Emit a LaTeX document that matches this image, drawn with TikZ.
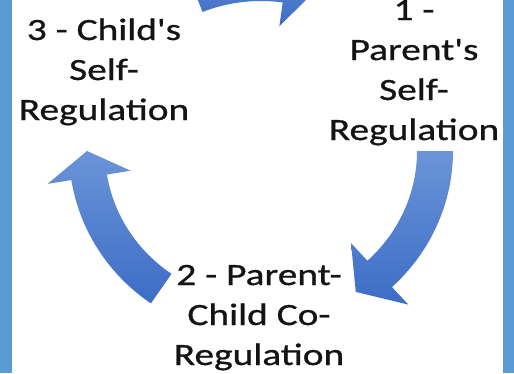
\documentclass[tikz,border=0pt]{standalone}
\usepackage{fontspec}
\setmainfont{Carlito}[FakeStretch=1.27, FakeBold=0.8, Ligatures=TeXOff]
\usetikzlibrary{calc}
\definecolor{frameblue}{HTML}{5B9BD5}
\definecolor{arrowtop}{HTML}{6B94D8}
\definecolor{arrowbottom}{HTML}{3C6DC6}
\definecolor{labeltext}{HTML}{141414}
% curved arrow on the cycle: (centre)(start:head base:tip)
\def\cyclearrow(#1)(#2:#3:#4){\shade[top color=arrowtop, bottom color=arrowbottom]
	($(#1)+(#2:192 and 186)$) arc[start angle=#2, end angle=#3, x radius=192, y radius=186]
	-- ($(#1)+(#3:216 and 210)$) -- ($(#1)+(#4:174 and 168)$) -- ($(#1)+(#3:132 and 126)$)
	-- ($(#1)+(#3:156 and 150)$) arc[start angle=#3, end angle=#2, x radius=156, y radius=150] -- cycle;}

\begin{document}
\begin{tikzpicture}[x=1pt, y=1pt,
	steplabel/.style={align=center, anchor=base, inner sep=0pt, text=labeltext,
		font={\fontsize{31}{40}\selectfont}}]
			%%%%% START %%%%%
			
			\clip (0, 0) rectangle (514, 373);
			\fill[white] (0, 0) rectangle (514, 373);
			
			\fill[frameblue] (0, 0) rectangle (12, 373);
			\fill[frameblue] (503, 0) rectangle (514, 373);
			
			\coordinate (hub) at (261, 222);
			
			\cyclearrow(hub)(112:82:72);
			\cyclearrow(hub)(0:-47:-57);
			\cyclearrow(hub)(235:189:180);
			
			% labels sit on the baseline of their last line
			\node[steplabel] (parentself) at (414, 233) {1 -\\Parent's\\Self-\\Regulation};
			\node[steplabel] (coreg) at (259, 8) {2 - Parent-\\Child Co-\\Regulation};
			\node[steplabel] (childself) at (104, 253) {3 - Child's\\Self-\\Regulation};
			
			%%%%% END %%%%%
\end{tikzpicture}
\end{document}
